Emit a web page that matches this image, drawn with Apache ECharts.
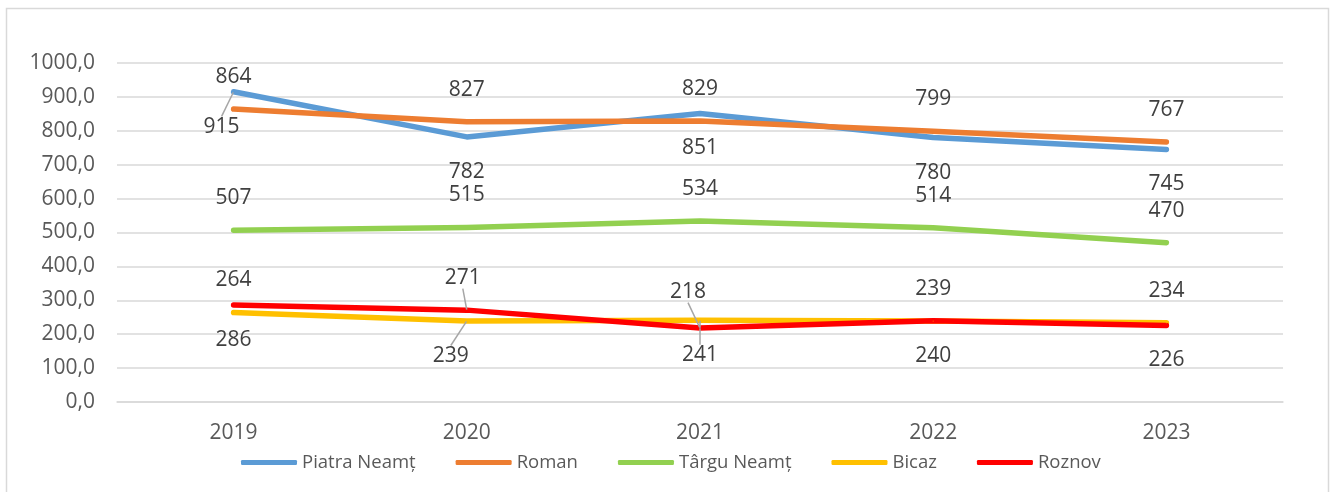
<!DOCTYPE html>
<html lang="ro">
<head>
    <meta charset="UTF-8">
    <title>Neamț</title>
    <script src="https://cdn.jsdelivr.net/npm/echarts@6/dist/echarts.min.js"></script>
    <style>
        html, body { margin: 0; padding: 0; background: #fff; }
    </style>
</head>
<body>
    <div id="main" style="width: 1335px;height: 492px"></div>
    <script>
        // date
        var years = ['2019', '2020', '2021', '2022', '2023'];
        var piatraNeamt = [915, 782, 851, 780, 745];
        var roman = [864, 827, 829, 799, 767];
        var targuNeamt = [507, 515, 534, 514, 470];
        var bicaz = [264, 239, 241, 239, 234];
        var roznov = [286, 271, 218, 240, 226];

        // unde stau etichetele (sus / jos) pentru fiecare serie
        var sides = {
            'Piatra Neamț': ['bottom', 'bottom', 'bottom', 'bottom', 'bottom'],
            'Roman': ['top', 'top', 'top', 'top', 'top'],
            'Târgu Neamț': ['top', 'top', 'top', 'top', 'top'],
            'Bicaz': ['top', 'bottom', 'bottom', 'top', 'top'],
            'Roznov': ['bottom', 'top', 'top', 'bottom', 'bottom']
        };
        // etichete mutate cu mana in Excel -> linie de legatura
        var moved = {
            'Piatra Neamț': { 0: [-12, 0] },
            'Bicaz': { 1: [-16, 0], 2: [0, 0] },
            'Roznov': { 1: [-4, 0], 2: [-12, -4] }
        };

        var font = '"Open Sans", "Noto Sans", sans-serif';

        function makeSeries(name, values, color) {
            var mv = moved[name] || {};
            return {
                name: name,
                type: 'line',
                data: values.map(function (v, i) {
                    var side = sides[name][i];
                    var item = {
                        value: v,
                        label: { position: side, distance: side === 'top' ? 21 : 24 }
                    };
                    if (mv[i]) {
                        item.labelLine = { show: true };
                    }
                    return item;
                }),
                symbol: 'circle',
                symbolSize: 1,
                showSymbol: true,
                itemStyle: { color: color },
                lineStyle: { color: color, width: 5.5, cap: 'round', join: 'round' },
                label: {
                    show: true,
                    color: '#404040',
                    fontFamily: font,
                    fontSize: 21
                },
                labelLine: {
                    show: false,
                    lineStyle: { color: '#a6a6a6', width: 1.5 }
                },
                labelLayout: function (p) {
                    var d = mv[p.dataIndex];
                    return d ? { dx: d[0], dy: d[1] } : {};
                },
                emphasis: { disabled: true }
            };
        }

        var mCharts = echarts.init(document.getElementById('main'));
        var option = {
            animation: false,
            backgroundColor: '#fff',
            graphic: [{
                type: 'rect',
                shape: { x: 6.5, y: 8.5, width: 1322, height: 495 },
                style: { fill: 'none', stroke: '#d9d9d9', lineWidth: 1.5 },
                silent: true
            }],
            grid: { left: 117, right: 52, top: 63, bottom: 90 },
            legend: {
                bottom: 15,
                left: 236,
                itemWidth: 56,
                itemHeight: 5,
                itemGap: 40,
                icon: 'roundRect',
                textStyle: { color: '#595959', fontFamily: font, fontSize: 18.5 },
                data: ['Piatra Neamț', 'Roman', 'Târgu Neamț', 'Bicaz', 'Roznov']
            },
            xAxis: {
                type: 'category',
                data: years,
                boundaryGap: true,
                axisLine: { show: true, lineStyle: { color: '#d9d9d9', width: 1.5 } },
                axisTick: { show: false },
                axisLabel: { color: '#595959', fontFamily: font, fontSize: 21, margin: 21 }
            },
            yAxis: {
                type: 'value',
                min: 0,
                max: 1000,
                interval: 100,
                axisLine: { show: false },
                axisTick: { show: false },
                splitLine: { lineStyle: { color: '#d9d9d9', width: 1.5 } },
                axisLabel: {
                    color: '#595959',
                    fontFamily: font,
                    fontSize: 21,
                    margin: 22,
                    formatter: function (v) { return v.toFixed(1).replace('.', ','); }
                }
            },
            series: [
                makeSeries('Piatra Neamț', piatraNeamt, '#5B9BD5'),
                makeSeries('Roman', roman, '#ED7D31'),
                makeSeries('Târgu Neamț', targuNeamt, '#92D050'),
                makeSeries('Bicaz', bicaz, '#FFC000'),
                makeSeries('Roznov', roznov, '#FF0000')
            ]
        };
        mCharts.setOption(option);
    </script>
</body>
</html>
